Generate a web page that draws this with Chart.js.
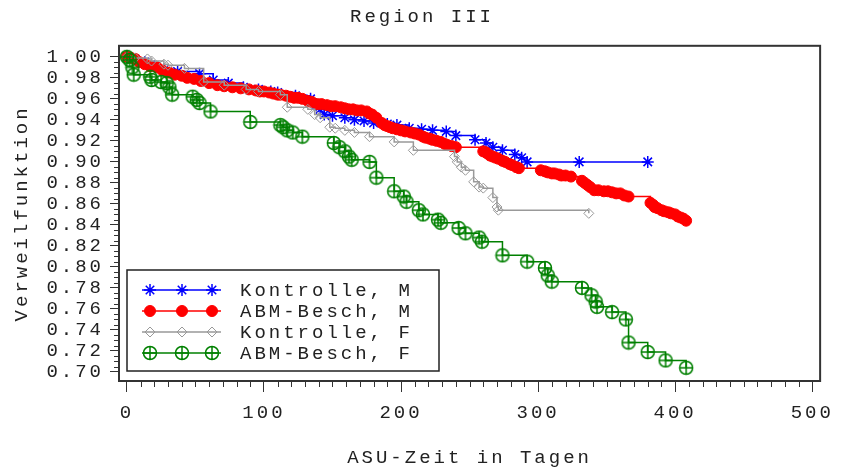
<!DOCTYPE html>
<html>
<head>
<meta charset="utf-8">
<script src="https://cdn.jsdelivr.net/npm/chart.js@4/dist/chart.umd.min.js"></script>
<style>
  html, body { margin: 0; padding: 0; background: #fff; }
</style>
</head>
<body>
<canvas id="graficoVerweil" width="844" height="472"></canvas>
<script>
  const titulo = 'Region III';
  const tituloX = 'ASU-Zeit in Tagen';
  const tituloY = 'Verweilfunktion';
  const xTicks = [0, 100, 200, 300, 400, 500];
  const yTicks = [0.70, 0.72, 0.74, 0.76, 0.78, 0.80, 0.82, 0.84, 0.86, 0.88, 0.90, 0.92, 0.94, 0.96, 0.98, 1.00];

  const etiquetas = ['Kontrolle, M', 'ABM-Besch, M', 'Kontrolle, F', 'ABM-Besch, F'];

  // Kontrolle, M
  const kontrolleMTage = [0, 6, 13, 20, 27, 37, 53, 63, 74, 85, 96, 105, 110, 123, 134, 138, 141, 144, 150, 159, 166, 173, 180, 190, 197, 206, 215, 223, 233, 240, 254, 262, 267, 274, 283, 288, 292, 330, 380];
  const kontrolleMWerte = [1.000, 0.998, 0.995, 0.991, 0.988, 0.986, 0.984, 0.978, 0.975, 0.971, 0.969, 0.967, 0.966, 0.963, 0.960, 0.954, 0.950, 0.945, 0.944, 0.942, 0.940, 0.939, 0.937, 0.936, 0.935, 0.932, 0.931, 0.930, 0.929, 0.925, 0.921, 0.918, 0.914, 0.911, 0.907, 0.904, 0.900, 0.900, 0.900];

  // ABM-Besch, M
  const abmMTage = [0, 3, 6, 9, 13, 17, 22, 26, 31, 35, 40, 44, 49, 54, 60, 66, 71, 77, 83, 89,
    94, 97, 100, 104, 107, 110, 112, 116, 119, 122, 125, 128, 132, 135, 139, 142, 146, 149, 152, 156,
    159, 162, 165, 168, 171, 175, 177, 179, 182, 186, 188, 190, 192, 194, 197, 200, 203, 207, 210, 213,
    216, 218, 221, 223, 226, 229, 232, 234, 237, 240, 260, 262, 263, 265, 267, 269, 271, 274, 276, 279,
    281, 284, 286, 302, 305, 307, 310, 312, 315, 317, 320, 324, 332, 334, 336, 338, 341, 344, 348, 351,
    354, 357, 360, 363, 366, 382, 384, 385, 387, 390, 392, 395, 397, 400, 402, 404, 406, 408];
  const abmMWerte = [1.000, 0.999, 0.998, 0.995, 0.993, 0.991, 0.990, 0.987, 0.985, 0.983, 0.982, 0.980, 0.979, 0.977, 0.975, 0.973, 0.972, 0.971, 0.970, 0.969,
    0.968, 0.967, 0.967, 0.966, 0.965, 0.964, 0.964, 0.963, 0.962, 0.961, 0.961, 0.960, 0.958, 0.957, 0.955, 0.955, 0.954, 0.953, 0.953, 0.952,
    0.951, 0.950, 0.950, 0.949, 0.949, 0.948, 0.946, 0.945, 0.942, 0.937, 0.935, 0.934, 0.933, 0.932, 0.931, 0.930, 0.929, 0.928, 0.927, 0.926,
    0.924, 0.923, 0.922, 0.921, 0.920, 0.919, 0.917, 0.916, 0.915, 0.914, 0.910, 0.909, 0.908, 0.906, 0.905, 0.904, 0.903, 0.901, 0.900, 0.898,
    0.897, 0.895, 0.894, 0.892, 0.891, 0.890, 0.889, 0.889, 0.888, 0.887, 0.887, 0.886, 0.882, 0.880, 0.878, 0.876, 0.873, 0.873, 0.872, 0.872,
    0.871, 0.870, 0.870, 0.868, 0.867, 0.861, 0.859, 0.857, 0.856, 0.854, 0.853, 0.852, 0.851, 0.850, 0.848, 0.847, 0.846, 0.844];

  // Kontrolle, F
  const kontrolleFTage = [0, 6, 15, 18, 27, 30, 42, 56, 71, 87, 96, 112, 117, 132, 137, 141, 148, 152, 159, 166, 177, 195, 209, 239, 241, 244, 247, 253, 257, 260, 267, 270, 271, 337];
  const kontrolleFWerte = [1.000, 0.999, 0.998, 0.996, 0.993, 0.992, 0.989, 0.976, 0.973, 0.969, 0.967, 0.964, 0.952, 0.950, 0.945, 0.942, 0.933, 0.932, 0.930, 0.928, 0.924, 0.919, 0.911, 0.905, 0.900, 0.895, 0.892, 0.881, 0.876, 0.875, 0.866, 0.857, 0.854, 0.851];

  // ABM-Besch, F
  const abmFTage = [0, 2, 4, 5, 17, 18, 25, 29, 31, 33, 48, 51, 53, 61, 90, 112, 114, 117, 121, 128, 151, 155, 159, 162, 164, 177, 182, 195, 202, 204, 213, 216, 227, 229, 242, 247, 257, 259, 274, 292, 305, 307, 310, 332, 339, 342, 343, 354, 364, 366, 380, 393, 408];
  const abmFWerte = [1.000, 0.997, 0.990, 0.983, 0.981, 0.978, 0.976, 0.975, 0.971, 0.964, 0.962, 0.959, 0.956, 0.948, 0.938, 0.935, 0.933, 0.930, 0.928, 0.924, 0.918, 0.914, 0.910, 0.905, 0.902, 0.900, 0.885, 0.872, 0.867, 0.862, 0.854, 0.850, 0.845, 0.842, 0.837, 0.832, 0.828, 0.824, 0.811, 0.805, 0.799, 0.792, 0.786, 0.780, 0.773, 0.767, 0.762, 0.757, 0.750, 0.728, 0.719, 0.711, 0.704];

  const fuente = { family: "'Liberation Mono', 'DejaVu Sans Mono', monospace", size: 19, weight: 'normal' };
  const colorTexto = '#222';
  const espacio = '3px';

  const puntos = (t, s) => t.map((x, i) => ({ x: x, y: s[i] }));

  // circle with a cross inside, as a point style
  function kreisKreuz(color, r) {
    const c = document.createElement('canvas');
    const n = Math.ceil(2 * r + 3);
    c.width = n; c.height = n;
    const g = c.getContext('2d');
    const m = n / 2;
    g.strokeStyle = color;
    g.lineWidth = 1.5;
    g.beginPath();
    g.arc(m, m, r, 0, Math.PI * 2);
    g.moveTo(m - r, m); g.lineTo(m + r, m);
    g.moveTo(m, m - r); g.lineTo(m, m + r);
    g.stroke();
    return c;
  }
  const gruenPunkt = kreisKreuz('#008000', 6.5);

  const letras = {
    id: 'letras',
    beforeLayout(chart) { chart.ctx.letterSpacing = espacio; },
    beforeDraw(chart) { chart.ctx.letterSpacing = espacio; }
  };

  const rahmen = {
    id: 'rahmen',
    beforeDatasetsDraw(chart) {
      const { ctx, chartArea: a } = chart;
      ctx.save();
      ctx.strokeStyle = '#333';
      ctx.lineWidth = 2;
      ctx.strokeRect(a.left, a.top, a.right - a.left, a.bottom - a.top);
      // minor ticks
      ctx.lineWidth = 1;
      ctx.beginPath();
      const sx = chart.scales.x, sy = chart.scales.y;
      for (let v = 0; v <= 500; v += 10) {
        if (v % 100 === 0) continue;
        const px = Math.round(sx.getPixelForValue(v)) + 0.5;
        ctx.moveTo(px, a.bottom + 1);
        ctx.lineTo(px, a.bottom + 6);
      }
      for (let k = 0; k <= 60; k++) {
        if (k % 4 === 0) continue;
        const py = Math.round(sy.getPixelForValue(0.70 + k * 0.005)) + 0.5;
        ctx.moveTo(a.left - 5, py);
        ctx.lineTo(a.left, py);
      }
      ctx.stroke();
      ctx.restore();
    }
  };

  const legende = {
    id: 'legende',
    afterDatasetsDraw(chart) {
      const { ctx, chartArea: a } = chart;
      const l = a.left + 8, b = a.bottom - 10, w = 312, h = 101, t = b - h;
      ctx.save();
      ctx.fillStyle = '#fff';
      ctx.fillRect(l, t, w, h);
      ctx.strokeStyle = '#222';
      ctx.lineWidth = 1.5;
      ctx.strokeRect(l, t, w, h);
      chart.data.datasets.forEach((ds, i) => {
        const y = t + 20 + i * 21;
        ctx.strokeStyle = ds.borderColor;
        ctx.lineWidth = 1.5;
        ctx.beginPath();
        ctx.moveTo(l + 15, y);
        ctx.lineTo(l + 94, y);
        ctx.stroke();
        [23, 55, 85].forEach(dx => {
          ctx.strokeStyle = ds.pointBorderColor;
          ctx.fillStyle = ds.pointBackgroundColor;
          ctx.lineWidth = ds.pointBorderWidth;
          Chart.helpers.drawPoint(ctx, { pointStyle: ds.pointStyle, radius: ds.pointRadius, rotation: 0, borderWidth: ds.pointBorderWidth }, l + dx, y);
        });
        ctx.fillStyle = colorTexto;
        ctx.font = fuente.size + 'px ' + fuente.family;
        ctx.textAlign = 'left';
        ctx.textBaseline = 'middle';
        ctx.fillText(ds.label, l + 113, y + 1);
      });
      ctx.restore();
    }
  };

  const graficoVerweil = document.getElementById('graficoVerweil');

  new Chart(graficoVerweil, {
    type: 'line',
    data: {
      datasets: [{
        label: etiquetas[0],
        data: puntos(kontrolleMTage, kontrolleMWerte),
        borderColor: '#0000ff',
        borderWidth: 1.5,
        stepped: true,
        pointStyle: 'star',
        pointRadius: 6,
        pointBorderColor: '#0000ff',
        pointBackgroundColor: '#0000ff',
        pointBorderWidth: 1.5,
        order: 4
      }, {
        label: etiquetas[1],
        data: puntos(abmMTage, abmMWerte),
        borderColor: '#ff0000',
        borderWidth: 1.5,
        stepped: true,
        pointStyle: 'circle',
        pointRadius: 5.5,
        pointBorderColor: '#ff0000',
        pointBackgroundColor: '#ff0000',
        pointBorderWidth: 1,
        order: 3
      }, {
        label: etiquetas[2],
        data: puntos(kontrolleFTage, kontrolleFWerte),
        borderColor: '#999999',
        borderWidth: 1.5,
        stepped: true,
        pointStyle: 'rectRot',
        pointRadius: 5,
        pointBorderColor: '#999999',
        pointBackgroundColor: 'rgba(255,255,255,0)',
        pointBorderWidth: 1,
        order: 2
      }, {
        label: etiquetas[3],
        data: puntos(abmFTage, abmFWerte),
        borderColor: '#008000',
        borderWidth: 1.5,
        stepped: true,
        pointStyle: gruenPunkt,
        pointRadius: 6.5,
        pointBorderColor: '#008000',
        pointBackgroundColor: 'rgba(255,255,255,0)',
        pointBorderWidth: 1.5,
        order: 1
      }]
    },
    options: {
      responsive: false,
      animation: false,
      layout: { padding: 0 },
      plugins: {
        legend: { display: false },
        tooltip: { enabled: false },
        title: {
          display: true,
          text: titulo,
          color: colorTexto,
          font: fuente,
          padding: { top: 6, bottom: 17 }
        }
      },
      scales: {
        x: {
          type: 'linear',
          min: -5.76,
          max: 505.76,
          afterBuildTicks: s => { s.ticks = xTicks.map(v => ({ value: v })); },
          afterFit: s => { s.height = 91; },
          grid: { drawOnChartArea: false, drawTicks: true, tickLength: 11, color: '#333' },
          border: { display: false },
          ticks: { color: colorTexto, font: fuente, padding: 10, maxRotation: 0, autoSkip: false, callback: v => String(v) },
          title: { display: true, text: tituloX, color: colorTexto, font: fuente, padding: { top: 0, bottom: 3 } }
        },
        y: {
          type: 'linear',
          min: 0.6914,
          max: 1.0105,
          afterBuildTicks: s => { s.ticks = yTicks.map(v => ({ value: v })); },
          afterFit: s => { s.width = 119; },
          grid: { drawOnChartArea: false, drawTicks: true, tickLength: 9, color: '#333' },
          border: { display: false },
          ticks: { color: colorTexto, font: fuente, padding: 6, autoSkip: false, callback: v => v.toFixed(2) },
          title: { display: true, text: tituloY, color: colorTexto, font: fuente, padding: { top: 11, bottom: 0 } }
        },
        rechts: {
          type: 'linear',
          position: 'right',
          display: true,
          grid: { display: false },
          border: { display: false },
          ticks: { display: false },
          afterFit: s => { s.width = 15; }
        }
      }
    },
    plugins: [letras, rahmen, legende]
  });
</script>
</body>
</html>
